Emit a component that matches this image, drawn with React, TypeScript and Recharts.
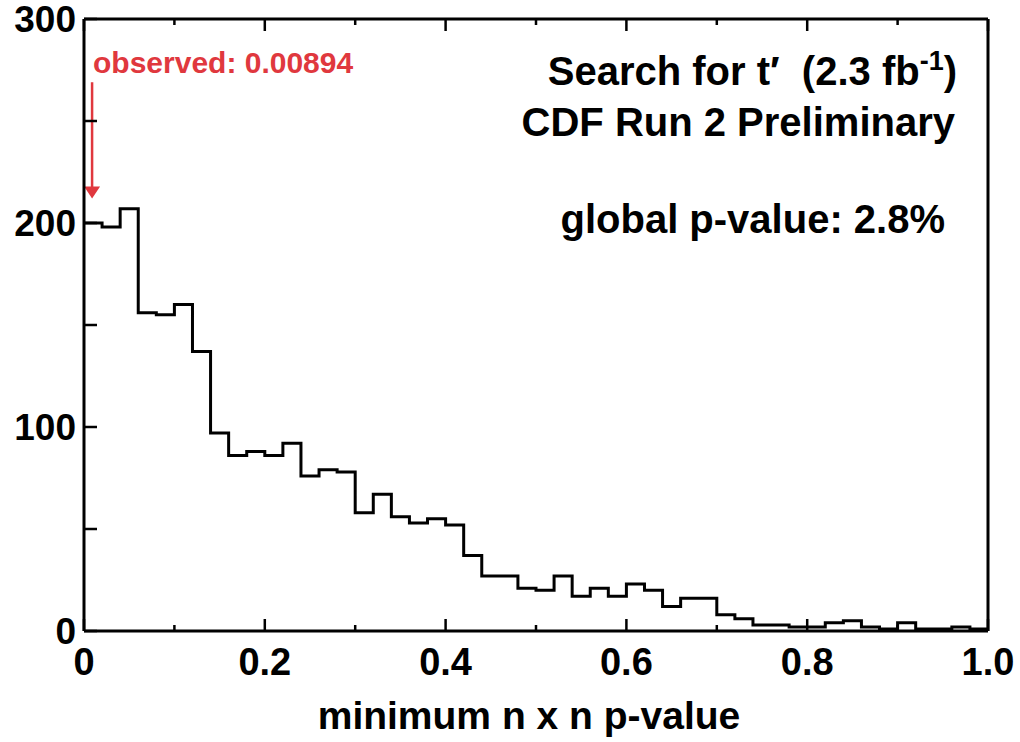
import {
  ComposedChart,
  Line,
  ReferenceLine,
  XAxis,
  YAxis,
} from "recharts";

// histogram of minimum n x n p-value, 50 bins over [0, 1]
const BIN_WIDTH = 0.02;
const binCounts = [
  200, 198, 207, 156, 155, 160, 137, 97, 86, 88,
  86, 92, 76, 79, 78, 58, 67, 56, 53, 55,
  52, 37, 27, 27, 21, 20, 27, 17, 21, 17,
  23, 20, 12, 16, 16, 8, 6, 3, 3, 2,
  2, 4, 5, 2, 1, 4, 1, 1, 2, 1,
];

const xTicks = [0, 0.1, 0.2, 0.3, 0.4, 0.5, 0.6, 0.7, 0.8, 0.9, 1.0];
const xTickLabels = ["0", "", "0.2", "", "0.4", "", "0.6", "", "0.8", "", "1.0"];
const yTicks = [0, 50, 100, 150, 200, 250, 300];
const yTickLabels = ["0", "", "100", "", "200", "", "300"];

const OBSERVED = 0.00894;
const arrowFrom = 269;
const arrowTo = 212;

const FONT = '"Liberation Sans", Arial, Helvetica, sans-serif';
const RED = "#e0383e";

// step line needs a closing point at the right edge of the last bin
const chartData = [
  ...binCounts.map((c, i) => ({ x: +(i * BIN_WIDTH).toFixed(2), count: c })),
  { x: 1.0, count: binCounts[binCounts.length - 1] },
];

function BottomTick({ x, y, payload }: any) {
  const i = xTicks.indexOf(payload.value);
  const major = xTickLabels[i] !== "";
  return (
    <g>
      <line x1={x} x2={x} y1={y} y2={y - (major ? 12 : 6)} stroke="#000" strokeWidth={2.5} />
      {major && (
        <text x={x} y={y + 44} textAnchor="middle" fontFamily={FONT} fontWeight="bold" fontSize={38} fill="#000">
          {xTickLabels[i]}
        </text>
      )}
    </g>
  );
}

function TopTick({ x, y, payload }: any) {
  const i = xTicks.indexOf(payload.value);
  const major = xTickLabels[i] !== "";
  return <line x1={x} x2={x} y1={y} y2={y + (major ? 12 : 6)} stroke="#000" strokeWidth={2.5} />;
}

function LeftTick({ x, y, payload }: any) {
  const i = yTicks.indexOf(payload.value);
  return (
    <g>
      <line x1={x} x2={x + 13} y1={y} y2={y} stroke="#000" strokeWidth={2.5} />
      {yTickLabels[i] !== "" && (
        <text x={x - 8} y={y + 13} textAnchor="end" fontFamily={FONT} fontWeight="bold" fontSize={37} fill="#000">
          {yTickLabels[i]}
        </text>
      )}
    </g>
  );
}

function RightTick({ x, y }: any) {
  return <line x1={x} x2={x - 13} y1={y} y2={y} stroke="#000" strokeWidth={2.5} />;
}

function ArrowShape(props: any) {
  const { x1, y1, x2, y2 } = props;
  return (
    <g>
      <line x1={x1} y1={y1} x2={x2} y2={y2 - 8} stroke={RED} strokeWidth={2.5} />
      <path d={`M${x2 - 8},${y2 - 12} L${x2 + 8},${y2 - 12} L${x2},${y2} Z`} fill={RED} />
    </g>
  );
}

export default function App() {
  return (
    <div style={{ position: "absolute", left: 0, top: 0, background: "#fff" }}>
      <ComposedChart
        width={1020}
        height={742}
        data={chartData}
        margin={{ top: 18, right: 31, bottom: 0, left: 0 }}
      >
        <XAxis
          xAxisId="b"
          dataKey="x"
          type="number"
          domain={[0, 1]}
          ticks={xTicks}
          interval={0}
          height={111}
          tickSize={0}
          tickMargin={0}
          tickLine={false}
          tick={<BottomTick />}
          axisLine={{ stroke: "#000", strokeWidth: 3 }}
        />
        <XAxis
          xAxisId="t"
          orientation="top"
          dataKey="x"
          type="number"
          domain={[0, 1]}
          ticks={xTicks}
          interval={0}
          height={1}
          tickSize={0}
          tickMargin={0}
          tickLine={false}
          tick={<TopTick />}
          axisLine={{ stroke: "#000", strokeWidth: 3 }}
        />
        <YAxis
          yAxisId="l"
          type="number"
          domain={[0, 300]}
          ticks={yTicks}
          interval={0}
          width={84}
          tickSize={0}
          tickMargin={0}
          tickLine={false}
          tick={<LeftTick />}
          axisLine={{ stroke: "#000", strokeWidth: 3 }}
        />
        <YAxis
          yAxisId="r"
          orientation="right"
          type="number"
          domain={[0, 300]}
          ticks={yTicks}
          interval={0}
          width={1}
          tickSize={0}
          tickMargin={0}
          tickLine={false}
          tick={<RightTick />}
          axisLine={{ stroke: "#000", strokeWidth: 3 }}
        />
        <Line
          xAxisId="b"
          yAxisId="l"
          type="stepAfter"
          dataKey="count"
          stroke="#000"
          strokeWidth={3}
          dot={false}
          activeDot={false}
          isAnimationActive={false}
        />
        <ReferenceLine
          xAxisId="b"
          yAxisId="l"
          segment={[
            { x: OBSERVED, y: arrowFrom },
            { x: OBSERVED, y: arrowTo },
          ]}
          shape={<ArrowShape />}
          ifOverflow="visible"
        />
        <text x={93} y={73} fontFamily={FONT} fontWeight="bold" fontSize={30} fill={RED}>
          observed: 0.00894
        </text>
        <text x={957} y={85} textAnchor="end" fontFamily={FONT} fontWeight="bold" fontSize={40} fill="#000" style={{ whiteSpace: "pre" }}>
          {"Search for t\u2032  (2.3 fb"}
          <tspan dy={-15} fontSize={27}>-1</tspan>
          <tspan dy={15}>)</tspan>
        </text>
        <text x={955} y={136} textAnchor="end" fontFamily={FONT} fontWeight="bold" fontSize={40} fill="#000">
          CDF Run 2 Preliminary
        </text>
        <text x={945} y={233} textAnchor="end" fontFamily={FONT} fontWeight="bold" fontSize={40} fill="#000">
          global p-value: 2.8%
        </text>
        <text x={529} y={729} textAnchor="middle" fontFamily={FONT} fontWeight="bold" fontSize={39} fill="#000">
          minimum n x n p-value
        </text>
      </ComposedChart>
    </div>
  );
}
